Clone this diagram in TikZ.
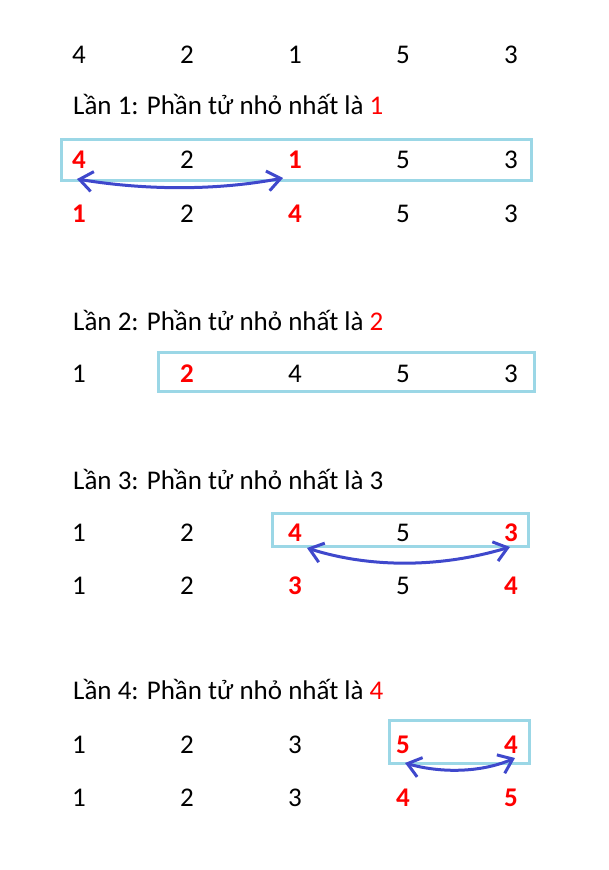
\documentclass[tikz,border=0pt]{standalone}
\usepackage{fontspec}
\setmainfont{Carlito}
\usetikzlibrary{arrows.meta}
\definecolor{boxblue}{RGB}{155,215,230}
\definecolor{arrblue}{RGB}{63,72,204}
\begin{document}
\begin{tikzpicture}[x=1pt,y=-1pt,
  num/.style={anchor=base,inner sep=0pt,font=\fontsize{27}{32}\selectfont},
  hl/.style={anchor=base,inner sep=0pt,text=red,font=\fontsize{27}{32}\selectfont\bfseries},
  head/.style={anchor=base west,inner sep=0pt,font=\fontsize{27}{32}\selectfont},
  frame/.style={draw=boxblue,line width=3pt},
  swaparrow/.style={draw=arrblue,line width=3pt,line cap=round,
    {Straight Barb[length=13pt,width=20pt]}-{Straight Barb[length=13pt,width=20pt]}}]
\useasboundingbox (0,0) rectangle (608,870);

% initial row
\node[num] (r0a) at (79,63) {4};
\node[num] (r0b) at (187,63) {2};
\node[num] (r0c) at (295,63) {1};
\node[num] (r0d) at (403,63) {5};
\node[num] (r0e) at (511,63) {3};

% pass 1
\node[head] (h1) at (73,114) {Lần 1: Phần tử nhỏ nhất là \textcolor{red}{1}};
\draw[frame] (61,139) rectangle (531,180);
\node[hl]  (r1a) at (79,168) {4};
\node[num] (r1b) at (187,168) {2};
\node[hl]  (r1c) at (295,168) {1};
\node[num] (r1d) at (403,168) {5};
\node[num] (r1e) at (511,168) {3};
\coordinate (s1a) at (77,179);
\coordinate (s1b) at (283,178);
\draw[swaparrow] (s1a) .. controls (150,191) and (220,190) .. (s1b);
\node[hl]  (q1a) at (79,222) {1};
\node[num] (q1b) at (187,222) {2};
\node[hl]  (q1c) at (295,222) {4};
\node[num] (q1d) at (403,222) {5};
\node[num] (q1e) at (511,222) {3};

% pass 2
\node[head] (h2) at (73,330) {Lần 2: Phần tử nhỏ nhất là \textcolor{red}{2}};
\draw[frame] (158,352) rectangle (534,391);
\node[num] (r2a) at (79,382) {1};
\node[hl]  (r2b) at (187,382) {2};
\node[num] (r2c) at (295,382) {4};
\node[num] (r2d) at (403,382) {5};
\node[num] (r2e) at (511,382) {3};

% pass 3
\node[head] (h3) at (73,489) {Lần 3: Phần tử nhỏ nhất là 3};
\draw[frame] (272,513) rectangle (528,546);
\node[num] (r3a) at (79,541) {1};
\node[num] (r3b) at (187,541) {2};
\node[hl]  (r3c) at (295,541) {4};
\node[num] (r3d) at (403,541) {5};
\node[hl]  (r3e) at (511,541) {3};
\coordinate (s3a) at (307,548);
\coordinate (s3b) at (510,547);
\draw[swaparrow] (s3a) .. controls (370,568) and (440,568) .. (s3b);
\node[num] (q3a) at (79,594) {1};
\node[num] (q3b) at (187,594) {2};
\node[hl]  (q3c) at (295,594) {3};
\node[num] (q3d) at (403,594) {5};
\node[hl]  (q3e) at (511,594) {4};

% pass 4
\node[head] (h4) at (73,699) {Lần 4: Phần tử nhỏ nhất là \textcolor{red}{4}};
\draw[frame] (389,720) rectangle (529,763);
\node[num] (r4a) at (79,753) {1};
\node[num] (r4b) at (187,753) {2};
\node[num] (r4c) at (295,753) {3};
\node[hl]  (r4d) at (403,753) {5};
\node[hl]  (r4e) at (511,753) {4};
\coordinate (s4a) at (405,763);
\coordinate (s4b) at (515,758);
\draw[swaparrow] (s4a) .. controls (440,773) and (480,773) .. (s4b);
\node[num] (q4a) at (79,806) {1};
\node[num] (q4b) at (187,806) {2};
\node[num] (q4c) at (295,806) {3};
\node[hl]  (q4d) at (403,806) {4};
\node[hl]  (q4e) at (511,806) {5};
\end{tikzpicture}
\end{document}
